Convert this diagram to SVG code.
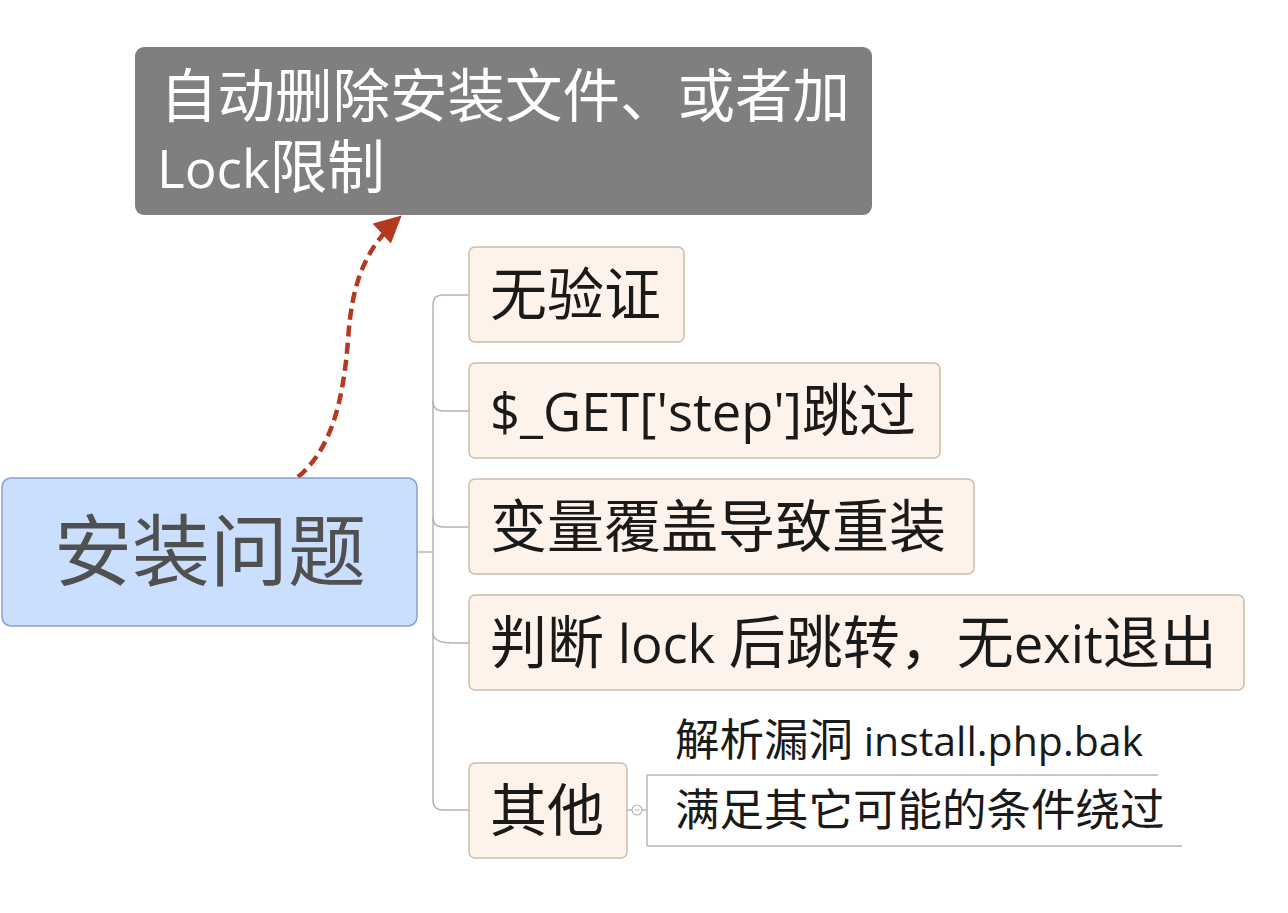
<svg xmlns="http://www.w3.org/2000/svg" width="1288" height="913" viewBox="0 0 1288 913">
<defs>
<style>
.txt{font-family:"Open Sans","Noto Sans CJK SC",sans-serif;}
.child rect{fill:#fdf3ea;stroke:#cdbcad;stroke-width:1.5;}
.child text{font-size:57px;fill:#1a1a1a;}
.sub text{font-size:44.5px;fill:#1a1a1a;}
.lat{font-size:52.5px;}
.slat{font-size:41px;}
.conn{fill:none;stroke:#b4b4b4;stroke-width:1.5;}
</style>
<marker id="ah" markerWidth="6" markerHeight="6" refX="5.5" refY="3" orient="auto" markerUnits="strokeWidth">
<path d="M0,0 L6,3 L0,6 Z" fill="#b3391f"/>
</marker>
</defs>
<rect width="1288" height="913" fill="#ffffff"/>
<g id="connectors">
<path class="conn" d="M417,552 H433"/>
<path class="conn" d="M469,295 H443 Q433,295 433,305 V800 Q433,810 443,810 H469"/>
<path class="conn" d="M433,401 Q433,411 443,411 H469"/>
<path class="conn" d="M433,517 Q433,527 443,527 H469"/>
<path class="conn" d="M433,633 Q433,643 453,643 H469"/>
<path class="conn" d="M627,810 H632"/>
<circle cx="637" cy="810" r="5" fill="#fff" stroke="#b4b4b4" stroke-width="1.2"/>
<path d="M634.5,810 H639.5" stroke="#b4b4b4" stroke-width="1"/>
<path class="conn" d="M642,810 H647"/>
<path class="conn" d="M647,775 V846"/>
<path class="conn" d="M647,775 H1158"/>
<path class="conn" d="M647,846 H1182"/>
<path d="M298,477 C330,450 343,405 348,340 C352,280 366,248 400,217" fill="none" stroke="#b3391f" stroke-width="4.5" stroke-dasharray="11,6" marker-end="url(#ah)"/>
</g>
<g id="root">
<rect x="2" y="478" width="415" height="148" rx="9" fill="#cadefd" stroke="#8b9dc9" stroke-width="1.5"/>
<text class="txt" x="210" y="580" font-size="78" fill="#505050" text-anchor="middle">安装问题</text>
</g>
<g id="floating">
<rect x="135" y="47" width="737" height="168" rx="9" fill="#7f7f7f"/>
<text class="txt" x="160" y="117" font-size="57.5" fill="#ffffff">自动删除安装文件、或者加</text>
<text class="txt" x="157" y="188" font-size="57.5" fill="#ffffff"><tspan font-size="53">Lock</tspan>限制</text>
</g>
<g id="n1" class="child">
<rect x="469" y="247" width="215" height="95" rx="6"/>
<text class="txt" x="490" y="315">无验证</text>
</g>
<g id="n2" class="child">
<rect x="469" y="363" width="471" height="95" rx="6"/>
<text class="txt" x="490" y="431"><tspan class="lat">$_GET['step']</tspan>跳过</text>
</g>
<g id="n3" class="child">
<rect x="469" y="479" width="505" height="95" rx="6"/>
<text class="txt" x="490" y="547">变量覆盖导致重装</text>
</g>
<g id="n4" class="child">
<rect x="469" y="595" width="775" height="95" rx="6"/>
<text class="txt" x="490" y="663">判断<tspan class="lat"> lock </tspan>后跳转，无<tspan class="lat">exit</tspan>退出</text>
</g>
<g id="n5" class="child">
<rect x="469" y="763" width="158" height="95" rx="6"/>
<text class="txt" x="490" y="831">其他</text>
</g>
<g id="s1" class="sub">
<text class="txt" x="675" y="756">解析漏洞<tspan class="slat"> install.php.bak</tspan></text>
</g>
<g id="s2" class="sub">
<text class="txt" x="675" y="826">满足其它可能的条件绕过</text>
</g>
</svg>
